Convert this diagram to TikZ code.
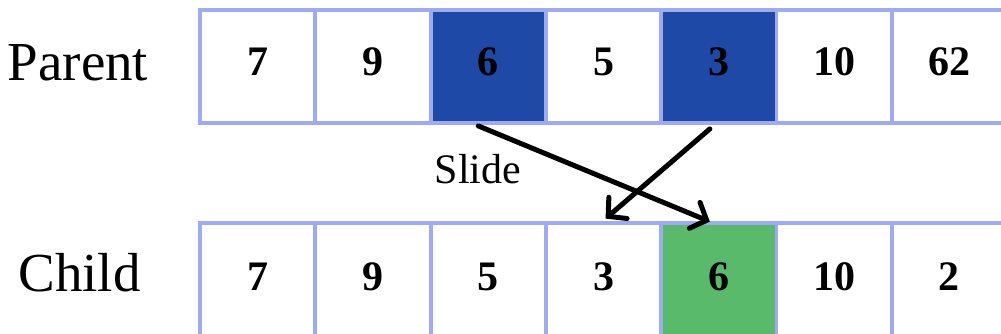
\documentclass[tikz,border=0pt]{standalone}
\usepackage{fontspec}
\setmainfont{Liberation Serif}
\usetikzlibrary{arrows.meta}
\definecolor{cellborder}{HTML}{9FAAF5}
\definecolor{selblue}{HTML}{1F49A6}
\definecolor{selgreen}{HTML}{5ABA6B}
\begin{document}
\begin{tikzpicture}[x=1pt,y=-1pt,
  cell/.style={draw=cellborder, line width=3.8pt, minimum width=115.3pt, minimum height=113pt,
    inner sep=0pt, font=\fontsize{42}{46}\selectfont\bfseries},
  prow/.style={cell, text depth=9pt},
  crow/.style={cell, text depth=5pt},
  rowlabel/.style={font=\fontsize{55}{60}\selectfont, anchor=base, inner sep=0pt},
  move/.style={line width=5pt, line cap=round, -{Straight Barb[length=13pt,width=28pt,line cap=round]}}]
\useasboundingbox (0,0) rectangle (1001,334);
\foreach \v [count=\i] in {7,9,6,5,3,10,62} {
  \pgfmathsetmacro{\cx}{200+115.3*(\i-0.5)}
  \node[prow] (p\i) at (\cx,66.5) {\v};
}
\foreach \v [count=\i] in {7,9,5,3,6,10,2} {
  \pgfmathsetmacro{\cx}{200+115.3*(\i-0.5)}
  \node[crow] (c\i) at (\cx,279.5) {\v};
}
\node[prow, fill=selblue] at (p3) {6};
\node[prow, fill=selblue] at (p5) {3};
\node[crow, fill=selgreen] at (c5) {6};
\node[rowlabel] (plabel) at (78,81) {Parent};
\node[rowlabel] (clabel) at (79.5,291) {Child};
\node[font=\fontsize{42}{46}\selectfont, anchor=base, inner sep=0pt] (slide) at (478,183) {Slide};
\coordinate (a1s) at ([xshift=-10pt,yshift=-1pt]p3.south);
\coordinate (a1e) at ([xshift=-9pt,yshift=-0.5pt]c5.north);
\coordinate (a2s) at ([xshift=-9pt,yshift=-4pt]p5.south);
\coordinate (a2e) at ([xshift=2pt,yshift=2.5pt]c4.north);
\draw[move] (a1s) -- (a1e);
\draw[move] (a2s) -- (a2e);
\end{tikzpicture}
\end{document}
